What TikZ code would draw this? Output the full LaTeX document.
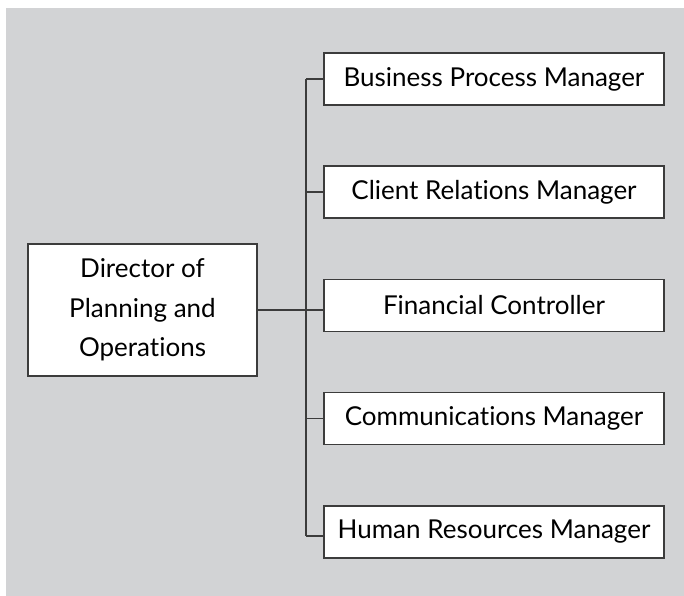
\documentclass[tikz,border=0pt]{standalone}
\usepackage{fontspec}
\setmainfont{Lato}[Ligatures=NoCommon]
\usepackage{tikz}
\definecolor{bggray}{RGB}{210,211,213}
\definecolor{linegray}{RGB}{60,60,60}

\begin{document}
\begin{tikzpicture}[post/.style={draw=linegray, fill=white, line width=0.6pt, minimum width=6.8cm, minimum height=1.04cm, inner sep=0pt, font=\fontsize{14.8}{22.5}\selectfont},
	tie/.style={draw=linegray, line width=0.6pt}]
	\useasboundingbox (0,0) rectangle (13.68,11.92);
	\fill[bggray] (.12,0) rectangle (13.68,11.76);
	\node[post, minimum width=4.58cm, minimum height=2.64cm, align=center] (dir) at (2.85,5.72) {Director of\\Planning and\\Operations};
	\node[post] (bpm) at (9.88,10.34) {Business Process Manager};
	\node[post] (crm) at (9.88,8.08) {Client Relations Manager};
	\node[post] (fc) at (9.88,5.81) {Financial Controller};
	\node[post] (cm) at (9.88,3.55) {Communications Manager};
	\node[post] (hrm) at (9.88,1.28) {Human Resources Manager};
	\coordinate (top) at (6.12,10.34);
	\coordinate (bot) at (6.12,1.2);
	\draw[tie] (top) -- (bot);
	\draw[tie] (dir.east) -- (dir.east -| fc.west);
	\foreach \n in {bpm,crm,cm}
	  \draw[tie] (top |- \n.west) -- (\n.west);
	\draw[tie] (bot) -- (bot -| hrm.west);
\end{tikzpicture}
\end{document}
